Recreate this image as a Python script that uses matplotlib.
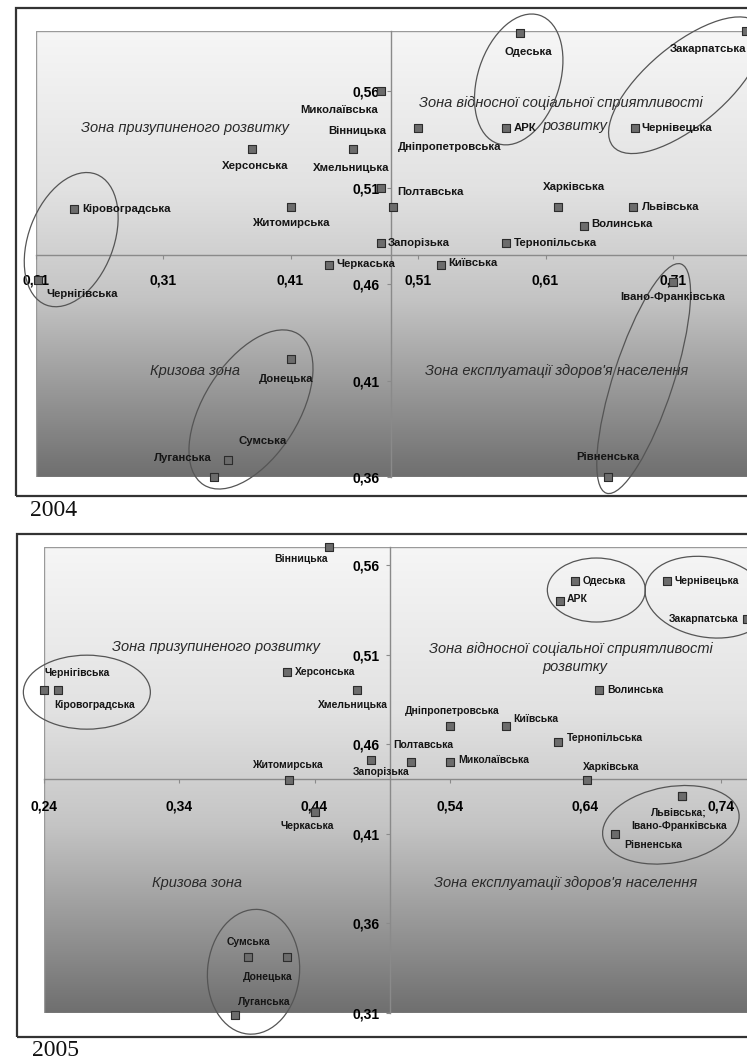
import matplotlib
matplotlib.use('Agg')
import matplotlib.pyplot as plt
import matplotlib.transforms as mtransforms
from matplotlib.patches import Ellipse, Rectangle
from matplotlib.colors import LinearSegmentedColormap
import numpy as np

W, H = 747, 1063

# ---- 2004 data ----
regions_2004 = ['Одеська', 'Закарпатська', 'Миколаївська', 'Вінницька', 'Херсонська',
                'Дніпропетровська', 'АРК', 'Чернівецька', 'Хмельницька', 'Полтавська',
                'Кіровоградська', 'Житомирська', 'Харківська', 'Львівська', 'Волинська',
                'Запорізька', 'Тернопільська', 'Черкаська', 'Київська', 'Чернігівська',
                'Івано-Франківська', 'Донецька', 'Сумська', 'Луганська', 'Рівненська']
x_2004 = [0.590, 0.767, 0.481, 0.459, 0.380, 0.510, 0.579, 0.680, 0.481, 0.490,
          0.240, 0.410, 0.620, 0.679, 0.640, 0.481, 0.579, 0.440, 0.528, 0.212,
          0.710, 0.410, 0.361, 0.350, 0.659]
y_2004 = [0.590, 0.591, 0.560, 0.530, 0.530, 0.541, 0.541, 0.541, 0.510, 0.500,
          0.499, 0.500, 0.500, 0.500, 0.490, 0.481, 0.481, 0.470, 0.470, 0.462,
          0.461, 0.421, 0.369, 0.360, 0.360]
xticks_2004 = [0.21, 0.31, 0.41, 0.51, 0.61, 0.71]
yticks_2004 = [0.36, 0.41, 0.46, 0.51, 0.56]

# ---- 2005 data ----
regions_2005 = ['Вінницька', 'Одеська', 'АРК', 'Чернівецька', 'Закарпатська',
                'Херсонська', 'Хмельницька', 'Кіровоградська', 'Чернігівська', 'Житомирська',
                'Запорізька', 'Полтавська', 'Миколаївська', 'Дніпропетровська', 'Київська',
                'Тернопільська', 'Волинська', 'Харківська', 'Черкаська', 'Львівська',
                'Івано-Франківська', 'Рівненська', 'Сумська', 'Донецька', 'Луганська']
x_2005 = [0.451, 0.632, 0.621, 0.700, 0.759, 0.420, 0.471, 0.251, 0.240, 0.421,
          0.482, 0.511, 0.540, 0.540, 0.581, 0.620, 0.650, 0.641, 0.440, 0.711,
          0.711, 0.662, 0.391, 0.420, 0.381]
y_2005 = [0.570, 0.551, 0.540, 0.551, 0.530, 0.500, 0.490, 0.490, 0.490, 0.440,
          0.451, 0.450, 0.450, 0.470, 0.470, 0.461, 0.490, 0.440, 0.422, 0.431,
          0.431, 0.410, 0.341, 0.341, 0.309]
xticks_2005 = [0.24, 0.34, 0.44, 0.54, 0.64, 0.74]
yticks_2005 = [0.31, 0.36, 0.41, 0.46, 0.51, 0.56]

zone_names = ['Зона призупиненого розвитку', 'Зона відносної соціальної сприятливості',
              'розвитку', 'Кризова зона', "Зона експлуатації здоров'я населення"]

# label placement: (dx px, dy px, ha)
lab_2004 = {
    'Одеська': (8, -19, 'center'), 'Закарпатська': (-38, -18, 'center'),
    'Миколаївська': (-42, -19, 'center'), 'Вінницька': (4, 18, 'center'),
    'Херсонська': (3, -17, 'center'), 'Дніпропетровська': (32, -19, 'center'),
    'АРК': (8, 0, 'left'), 'Чернівецька': (7, 0, 'left'),
    'Хмельницька': (-30, 20, 'center'), 'Полтавська': (38, 15, 'center'),
    'Кіровоградська': (8, 0, 'left'), 'Житомирська': (0, -16, 'center'),
    'Харківська': (16, 20, 'center'), 'Львівська': (8, 0, 'left'),
    'Волинська': (8, 2, 'left'), 'Запорізька': (7, 0, 'left'),
    'Тернопільська': (8, 0, 'left'), 'Черкаська': (8, 1, 'left'),
    'Київська': (7, 2, 'left'), 'Чернігівська': (8, -14, 'left'),
    'Івано-Франківська': (0, -15, 'center'), 'Донецька': (-4, -20, 'center'),
    'Сумська': (35, 19, 'center'), 'Луганська': (-31, 19, 'center'),
    'Рівненська': (0, 20, 'center'),
}
lab_2005 = {
    'Вінницька': (-28, -12, 'center'), 'Одеська': (8, 0, 'left'), 'АРК': (7, 2, 'left'),
    'Чернівецька': (8, 0, 'left'), 'Закарпатська': (-8, 0, 'right'),
    'Херсонська': (8, 0, 'left'), 'Хмельницька': (-4, -15, 'center'),
    'Кіровоградська': (36, -15, 'center'), 'Чернігівська': (34, 17, 'center'),
    'Житомирська': (-1, 15, 'center'), 'Запорізька': (10, -12, 'center'),
    'Полтавська': (13, 17, 'center'), 'Миколаївська': (8, 2, 'left'),
    'Дніпропетровська': (2, 15, 'center'), 'Київська': (8, 7, 'left'),
    'Тернопільська': (8, 4, 'left'), 'Волинська': (8, 0, 'left'),
    'Харківська': (24, 13, 'center'), 'Черкаська': (-7, -14, 'center'),
    'Львівська': (-3, -16, 'center'), 'Івано-Франківська': (-3, -30, 'center'),
    'Рівненська': (38, -11, 'center'), 'Сумська': (0, 15, 'center'),
    'Донецька': (-20, -20, 'center'), 'Луганська': (30, 13, 'center'),
}
text_2005 = {'Львівська': 'Львівська;'}

# zone captions: (x data, y data)
zones_2004 = [(0.327, 0.541), (0.622, 0.554), (0.633, 0.542), (0.335, 0.415), (0.619, 0.415)]
zones_2005 = [(0.367, 0.514), (0.629, 0.513), (0.632, 0.503), (0.353, 0.3825), (0.625, 0.3825)]

# ellipses: (cx, cy data, major px, minor px, angle)
ell_2004 = [(0.238, 0.483, 140, 85, 69), (0.589, 0.566, 135, 82, 72),
            (0.720, 0.563, 190, 80, 40), (0.379, 0.395, 178, 95, 58),
            (0.687, 0.411, 241, 60, 72)]
ell_2005 = [(0.272, 0.489, 127, 74, 0), (0.648, 0.546, 98, 64, 0),
            (0.730, 0.542, 126, 80, -10), (0.395, 0.333, 125, 92, 85),
            (0.703, 0.415, 138, 76, 10)]

grad = LinearSegmentedColormap.from_list('g', [(0, '#f6f6f6'), (0.35, '#e2e2e2'),
                                              (0.6, '#c4c4c4'), (1, '#6f6f6f')])

fig = plt.figure(figsize=(W / 100, H / 100), dpi=100)


def add_panel(left, top, right, bottom, xlim, ylim, xcross, ycross, xticks, yticks,
              regions, xs, ys, labels, texts, zones, ells, xpad, lab_size):
    ax = fig.add_axes([left / W, 1 - bottom / H, (right - left) / W, (bottom - top) / H])
    ax.set_xlim(*xlim)
    ax.set_ylim(*ylim)
    ax.imshow(np.linspace(0, 1, 256).reshape(-1, 1), extent=[0, 1, 0, 1],
              transform=ax.transAxes, aspect='auto', cmap=grad, zorder=0)
    ax.add_patch(Rectangle((0, 0), 1, 1, transform=ax.transAxes, fill=False,
                           ec='#9a9a9a', lw=1, zorder=1))
    for s in ['top', 'right']:
        ax.spines[s].set_visible(False)
    ax.spines['left'].set_position(('data', xcross))
    ax.spines['bottom'].set_position(('data', ycross))
    for s in ['left', 'bottom']:
        ax.spines[s].set_color('#8a8a8a')
        ax.spines[s].set_linewidth(1)
    ax.set_xticks(xticks)
    ax.set_yticks(yticks)
    ax.set_xticklabels([f'{v:.2f}'.replace('.', ',') for v in xticks],
                       fontweight='bold', fontsize=10, family='Liberation Sans')
    ax.set_yticklabels([f'{v:.2f}'.replace('.', ',') for v in yticks],
                       fontweight='bold', fontsize=10, family='Liberation Sans')
    ax.tick_params(axis='x', length=3, color='#8a8a8a', pad=xpad)
    ax.tick_params(axis='y', length=3, color='#8a8a8a', pad=5)

    ax.scatter(xs, ys, marker='s', s=26, c='#6c6c6c', edgecolors='#2c2c2c',
               linewidths=0.8, zorder=5, clip_on=False)
    for name, x, y in zip(regions, xs, ys):
        dx, dy, ha = labels[name]
        ax.annotate(texts.get(name, name), (x, y), xytext=(dx, dy),
                    textcoords='offset pixels', ha=ha, va='center', fontsize=lab_size,
                    fontweight='bold', family='Liberation Sans', color='#151515',
                    annotation_clip=False, zorder=6)
    for text, (zx, zy) in zip(zone_names, zones):
        ax.text(zx, zy, text, ha='center', va='center', fontsize=10.5, style='italic',
                family='Liberation Sans', color='#2a2a2a', zorder=4)
    for cx, cy, a, b, ang in ells:
        tr = mtransforms.IdentityTransform() + mtransforms.ScaledTranslation(cx, cy, ax.transData)
        ax.add_patch(Ellipse((0, 0), a, b, angle=ang, transform=tr, fill=False,
                             ec='#555555', lw=0.9, clip_on=False, zorder=4))
    return ax


def frame(x0, y0, x1, y1):
    fig.add_artist(Rectangle((x0 / W, 1 - y1 / H), (x1 - x0) / W, (y1 - y0) / H,
                             transform=fig.transFigure, fill=False, ec='#333333', lw=1.6))


frame(16, 8, 780, 496)
frame(17, 534, 780, 1037)

add_panel(35.5, 31.2, 749.5, 477, (0.21, 0.77), (0.36, 0.591), 0.489, 0.475,
          xticks_2004, yticks_2004, regions_2004, x_2004, y_2004, lab_2004, {},
          zones_2004, ell_2004, 10, 8.2)
add_panel(43.5, 547, 748.1, 1013, (0.24, 0.76), (0.31, 0.57), 0.496, 0.4406,
          xticks_2005, yticks_2005, regions_2005, x_2005, y_2005, lab_2005, text_2005,
          zones_2005, ell_2005, 12, 7.5)

fig.text(30 / W, 1 - 510 / H, '2004', family='Liberation Serif', fontsize=17,
         ha='left', va='center', color='#111111')
fig.text(32 / W, 1 - 1050 / H, '2005', family='Liberation Serif', fontsize=17,
         ha='left', va='center', color='#111111')

fig.savefig('out.png', dpi=100)
